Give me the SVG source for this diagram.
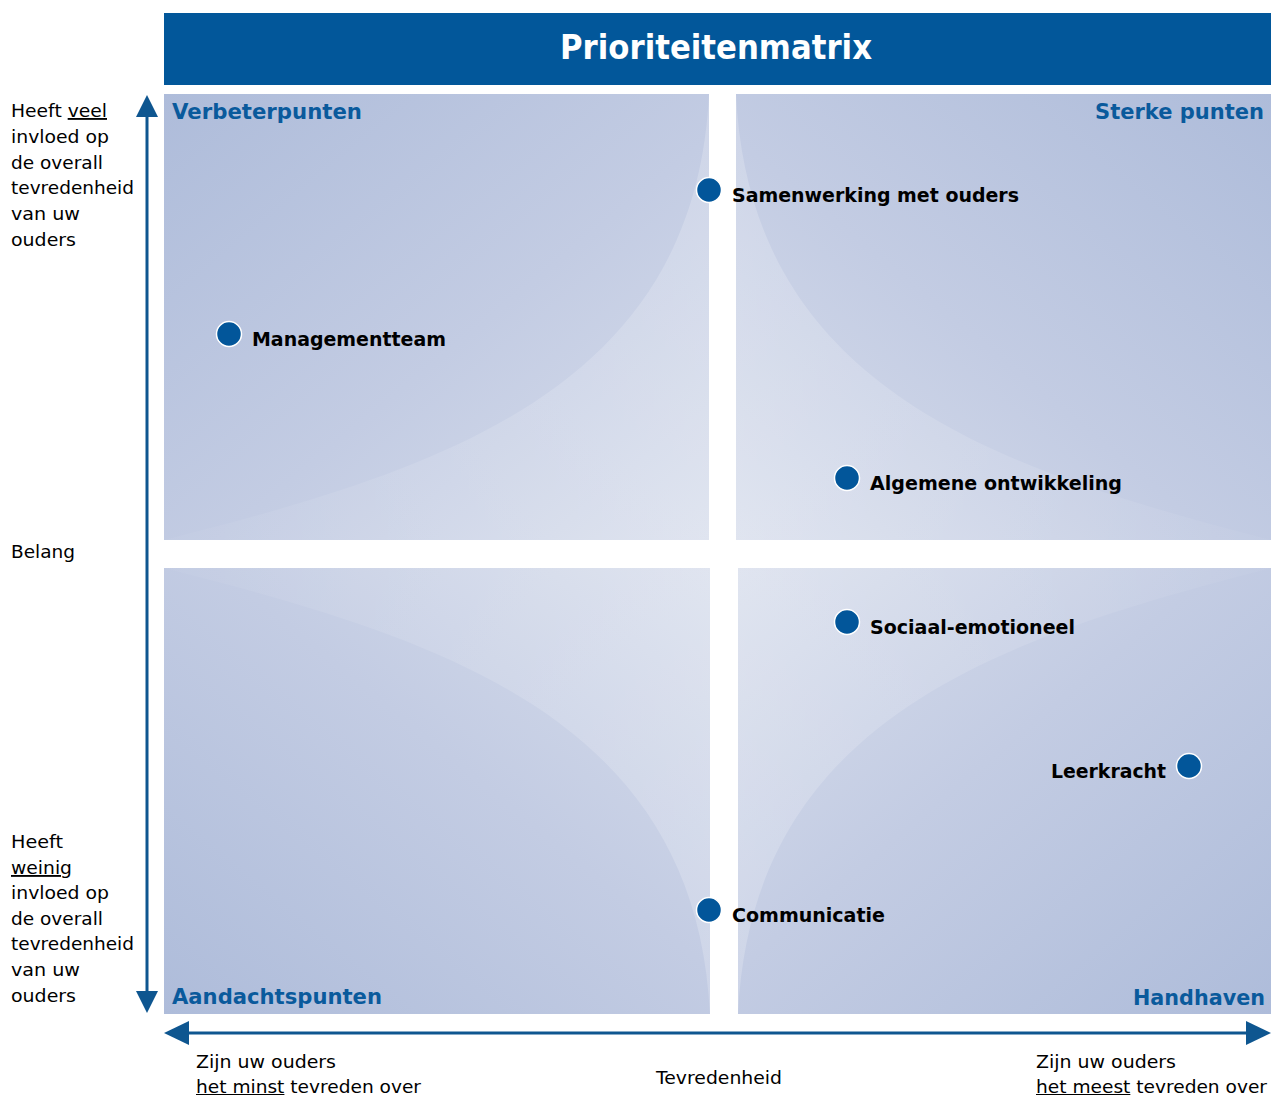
<svg xmlns="http://www.w3.org/2000/svg" width="1271" height="1095" viewBox="0 0 1271 1095">
<style>
.ax{font-family:"DejaVu Sans",Verdana,sans-serif;font-size:18.5px;fill:#000}
.lbl{font-family:"DejaVu Sans",Verdana,sans-serif;font-weight:bold;font-size:19px;fill:#000}
.q{font-family:"DejaVu Sans",Verdana,sans-serif;font-weight:bold;font-size:22px;fill:#0A5A9C}
.ttl{font-family:"DejaVu Sans",Verdana,sans-serif;font-weight:bold;font-size:33px;fill:#fff}
.dot{fill:#02569A;stroke:#fff;stroke-width:1.5}
.u{text-decoration:underline}
.axis{stroke:#0E5690;stroke-width:3;fill:none}
</style>
<defs>
<linearGradient id="gTL" x1="0" y1="0" x2="1" y2="1"><stop offset="0" stop-color="#AEBCDA"/><stop offset="0.55" stop-color="#C3CCE3"/><stop offset="1" stop-color="#D8DEEC"/></linearGradient>
<linearGradient id="gTR" x1="1" y1="0" x2="0" y2="1"><stop offset="0" stop-color="#AEBCDA"/><stop offset="0.55" stop-color="#C3CCE3"/><stop offset="1" stop-color="#D8DEEC"/></linearGradient>
<linearGradient id="gBL" x1="0" y1="1" x2="1" y2="0"><stop offset="0" stop-color="#AEBCDA"/><stop offset="0.55" stop-color="#C3CCE3"/><stop offset="1" stop-color="#D8DEEC"/></linearGradient>
<linearGradient id="gBR" x1="1" y1="1" x2="0" y2="0"><stop offset="0" stop-color="#AEBCDA"/><stop offset="0.55" stop-color="#C3CCE3"/><stop offset="1" stop-color="#D8DEEC"/></linearGradient>
<linearGradient id="hL" x1="0" y1="0" x2="1" y2="0"><stop offset="0" stop-color="#FFFFFF" stop-opacity="0.03"/><stop offset="1" stop-color="#FFFFFF" stop-opacity="0.2"/></linearGradient>
<linearGradient id="hR" x1="1" y1="0" x2="0" y2="0"><stop offset="0" stop-color="#FFFFFF" stop-opacity="0.03"/><stop offset="1" stop-color="#FFFFFF" stop-opacity="0.2"/></linearGradient>
</defs>

<g id="header">
<rect x="164" y="13" width="1107" height="72" fill="#02579A"/>
<text class="ttl" x="716" y="59" text-anchor="middle" textLength="312" lengthAdjust="spacingAndGlyphs">Prioriteitenmatrix</text>
</g>

<g id="quadrant-tl">
<rect x="164" y="94" width="545" height="446" fill="url(#gTL)"/>
<path d="M164,540 C440,470 695,390 709,94 L709,540 Z" fill="url(#hL)"/>
<text class="q" x="172" y="119" textLength="190" lengthAdjust="spacingAndGlyphs">Verbeterpunten</text>
</g>
<g id="quadrant-tr">
<rect x="736" y="94" width="535" height="446" fill="url(#gTR)"/>
<path d="M1271,540 C1000,470 750,390 736,94 L736,540 Z" fill="url(#hR)"/>
<text class="q" x="1264" y="119" text-anchor="end" textLength="169" lengthAdjust="spacingAndGlyphs">Sterke punten</text>
</g>
<g id="quadrant-bl">
<rect x="164" y="568" width="546" height="446" fill="url(#gBL)"/>
<path d="M164,568 C440,638 696,718 710,1014 L710,568 Z" fill="url(#hL)"/>
<text class="q" x="172" y="1004" textLength="210" lengthAdjust="spacingAndGlyphs">Aandachtspunten</text>
</g>
<g id="quadrant-br">
<rect x="738" y="568" width="533" height="446" fill="url(#gBR)"/>
<path d="M1271,568 C1000,638 752,718 738,1014 L738,568 Z" fill="url(#hR)"/>
<text class="q" x="1265" y="1005" text-anchor="end" textLength="132" lengthAdjust="spacingAndGlyphs">Handhaven</text>
</g>

<g id="connectors">
<line class="axis" x1="147" y1="110" x2="147" y2="998"/>
<polygon points="147,95 136,117 158,117" fill="#0E5690"/>
<polygon points="147,1013 136,991 158,991" fill="#0E5690"/>
<line class="axis" x1="180" y1="1033" x2="1255" y2="1033"/>
<polygon points="164,1033 189,1021 189,1045" fill="#0E5690"/>
<polygon points="1271,1033 1246,1021 1246,1045" fill="#0E5690"/>
</g>

<g id="axis-labels">
<text class="ax" x="11" y="117" textLength="96" lengthAdjust="spacingAndGlyphs">Heeft <tspan class="u">veel</tspan></text>
<text class="ax" x="11" y="143" textLength="98" lengthAdjust="spacingAndGlyphs">invloed op</text>
<text class="ax" x="11" y="169" textLength="92" lengthAdjust="spacingAndGlyphs">de overall</text>
<text class="ax" x="11" y="194" textLength="123" lengthAdjust="spacingAndGlyphs">tevredenheid</text>
<text class="ax" x="11" y="220" textLength="69" lengthAdjust="spacingAndGlyphs">van uw</text>
<text class="ax" x="11" y="246" textLength="65" lengthAdjust="spacingAndGlyphs">ouders</text>
<text class="ax" x="11" y="558" textLength="64" lengthAdjust="spacingAndGlyphs">Belang</text>
<text class="ax" x="11" y="848" textLength="52" lengthAdjust="spacingAndGlyphs">Heeft</text>
<text class="ax" x="11" y="874" textLength="61" lengthAdjust="spacingAndGlyphs"><tspan class="u">weinig</tspan></text>
<text class="ax" x="11" y="899" textLength="98" lengthAdjust="spacingAndGlyphs">invloed op</text>
<text class="ax" x="11" y="925" textLength="92" lengthAdjust="spacingAndGlyphs">de overall</text>
<text class="ax" x="11" y="950" textLength="123" lengthAdjust="spacingAndGlyphs">tevredenheid</text>
<text class="ax" x="11" y="976" textLength="69" lengthAdjust="spacingAndGlyphs">van uw</text>
<text class="ax" x="11" y="1002" textLength="65" lengthAdjust="spacingAndGlyphs">ouders</text>
<text class="ax" x="196" y="1068" textLength="140" lengthAdjust="spacingAndGlyphs">Zijn uw ouders</text>
<text class="ax" x="196" y="1093" textLength="225" lengthAdjust="spacingAndGlyphs"><tspan class="u">het minst</tspan> tevreden over</text>
<text class="ax" x="656" y="1084" textLength="126" lengthAdjust="spacingAndGlyphs">Tevredenheid</text>
<text class="ax" x="1036" y="1068" textLength="140" lengthAdjust="spacingAndGlyphs">Zijn uw ouders</text>
<text class="ax" x="1036" y="1093" textLength="231" lengthAdjust="spacingAndGlyphs"><tspan class="u">het meest</tspan> tevreden over</text>
</g>

<g id="node-samenwerking">
<circle class="dot" cx="709" cy="190" r="12.5"/>
<text class="lbl" x="732" y="202" textLength="287" lengthAdjust="spacingAndGlyphs">Samenwerking met ouders</text>
</g>
<g id="node-managementteam">
<circle class="dot" cx="229" cy="334" r="12.5"/>
<text class="lbl" x="252" y="346" textLength="194" lengthAdjust="spacingAndGlyphs">Managementteam</text>
</g>
<g id="node-algemene">
<circle class="dot" cx="847" cy="478" r="12.5"/>
<text class="lbl" x="870" y="490" textLength="252" lengthAdjust="spacingAndGlyphs">Algemene ontwikkeling</text>
</g>
<g id="node-sociaal">
<circle class="dot" cx="847" cy="622" r="12.5"/>
<text class="lbl" x="870" y="634" textLength="205" lengthAdjust="spacingAndGlyphs">Sociaal-emotioneel</text>
</g>
<g id="node-leerkracht">
<circle class="dot" cx="1189" cy="766" r="12.5"/>
<text class="lbl" x="1051" y="778" textLength="115" lengthAdjust="spacingAndGlyphs">Leerkracht</text>
</g>
<g id="node-communicatie">
<circle class="dot" cx="709" cy="910" r="12.5"/>
<text class="lbl" x="732" y="922" textLength="153" lengthAdjust="spacingAndGlyphs">Communicatie</text>
</g>
</svg>
